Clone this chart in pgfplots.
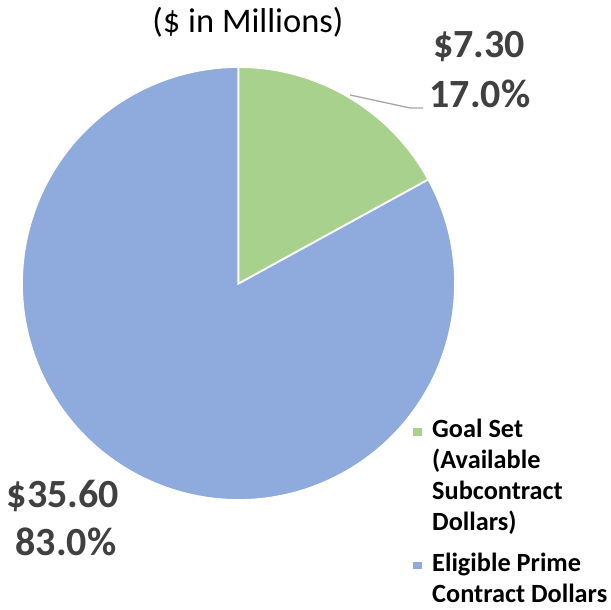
\documentclass[border=0pt]{standalone}
\usepackage{pgfplots}
\pgfplotsset{compat=1.18}
\usepackage{fontspec}
\setmainfont{Carlito}
\definecolor{pgreen}{HTML}{A9D18E}
\definecolor{pblue}{HTML}{8FAADC}
\definecolor{lbl}{HTML}{404040}
\tikzset{lg/.style={anchor=base west,inner sep=0pt,font=\fontsize{26.3}{31}\selectfont\bfseries},
  dl/.style={anchor=base,inner sep=0pt,text=lbl,font=\fontsize{40}{46}\selectfont\bfseries}}
\begin{document}
\begin{tikzpicture}
\pgfmathsetmacro{\va}{7.30}
\pgfmathsetmacro{\vb}{35.60}
\pgfmathsetmacro{\aa}{90-360*\va/(\va+\vb)}
\path[use as bounding box] (0,0) rectangle (611pt,610pt);
\begin{axis}[at={(0,0)},anchor=south west, scale only axis, width=611pt, height=610pt,
  xmin=0,xmax=611,ymin=0,ymax=610, hide axis, clip=false]
\fill[pblue,draw=white,line width=1.8pt] (axis cs:238.5,326.5) -- ++(\aa:216.5pt) arc[start angle=\aa, end angle=-270, radius=216.5pt] -- cycle;
\fill[pgreen,draw=white,line width=1.8pt] (axis cs:238.5,326.5) -- ++(90:216.5pt) arc[start angle=90, end angle=\aa, radius=216.5pt] -- cycle;
\draw[black!35,line width=1.3pt] (axis cs:350,515) -- (axis cs:410,502) -- (axis cs:423,502);
\node[anchor=base,inner sep=0pt,font=\fontsize{34.5}{40}\selectfont] at (axis cs:248,577) {(\$ in Millions)};
\node[dl] at (axis cs:479,552) {\$7.30};
\node[dl] at (axis cs:480,502) {17.0\%};
\node[dl] at (axis cs:63,102) {\$35.60};
\node[dl] at (axis cs:66,54) {83.0\%};
\fill[pgreen] (axis cs:413,174) rectangle (axis cs:422,182);
\fill[pblue] (axis cs:413,41) rectangle (axis cs:422,48);
\node[lg] at (axis cs:432,172) {Goal Set};
\node[lg] at (axis cs:432,141) {(Available};
\node[lg] at (axis cs:432,110) {Subcontract};
\node[lg] at (axis cs:432,79) {Dollars)};
\node[lg] at (axis cs:432,38) {Eligible Prime};
\node[lg] at (axis cs:432,7) {Contract Dollars};
\end{axis}
\end{tikzpicture}
\end{document}
